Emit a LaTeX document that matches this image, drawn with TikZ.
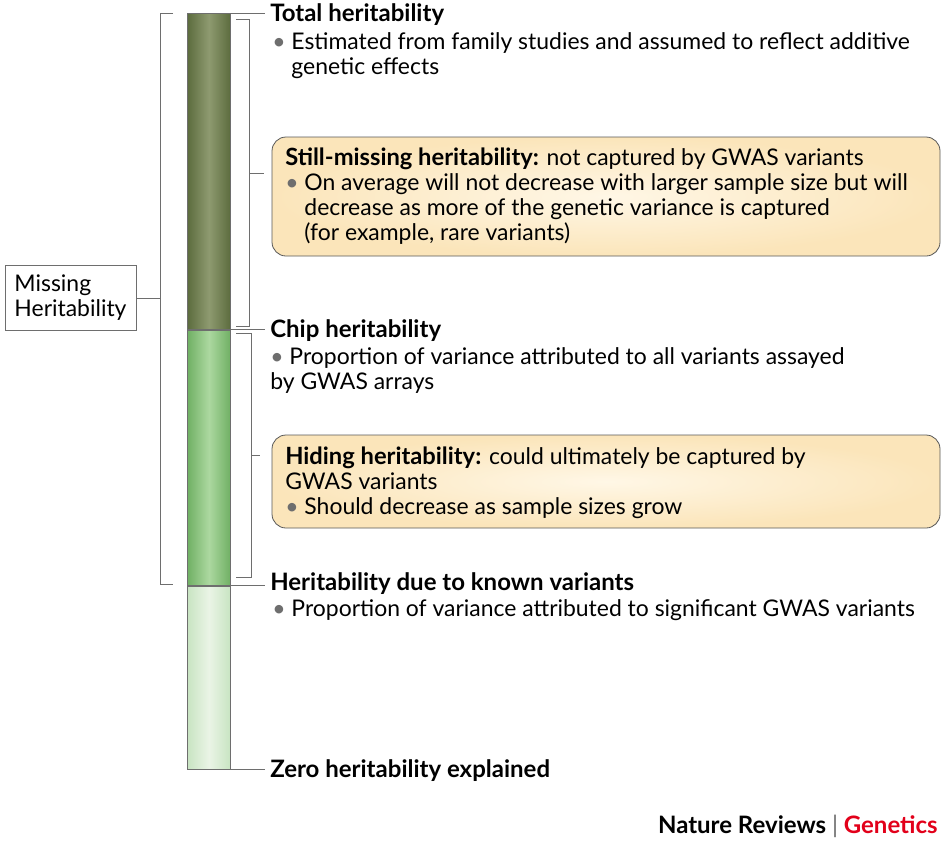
\documentclass[tikz,border=0pt]{standalone}
\usepackage{fontspec}
\setmainfont{Lato}
\usetikzlibrary{positioning}

\definecolor{oliveedge}{RGB}{92,108,62}
\definecolor{olivemid}{RGB}{142,154,112}
\definecolor{chipedge}{RGB}{112,176,100}
\definecolor{chipmid}{RGB}{172,216,160}
\definecolor{knownedge}{RGB}{200,228,194}
\definecolor{knownmid}{RGB}{234,244,230}
\definecolor{boxout}{RGB}{251,229,186}
\definecolor{boxin}{RGB}{255,247,230}
\definecolor{rulegray}{RGB}{110,110,110}
\definecolor{natred}{RGB}{226,0,26}

\newcommand{\bul}{{\color{rulegray}\textbullet}\ }
\newcommand{\hang}{\hphantom{\textbullet\ }}
\newcommand{\lead}[1]{{\fontsize{17.8}{18.75}\selectfont\bfseries #1}}

\begin{document}
\begin{tikzpicture}[x=0.75pt, y=-0.75pt,
                    font = \fontsize{17.2}{18.75}\selectfont,
                    guide/.style = {draw = rulegray, line width = 0.6pt},
                    barpart/.style = {guide,
                                      anchor = north west,
                                      inner sep = 0pt,
                                      minimum width = 43*0.75pt},
                    head/.style = {anchor = base west,
                                   inner xsep = 5*0.75pt,
                                   inner ysep = 0pt,
                                   font = \fontsize{18}{18.75}\selectfont\bfseries},
                    note/.style = {anchor = base west,
                                   inner sep = 0pt,
                                   align = left},
                    callout/.style = {draw = rulegray!80!black, line width = 0.6pt,
                                      rounded corners = 14*0.75pt,
                                      inner color = boxin,
                                      outer color = boxout,
                                      minimum width = 668*0.75pt}]

\useasboundingbox (0,0) rectangle (946,844);

% the bar
\node[barpart, minimum height = 316*0.75pt, left color = oliveedge,
      right color = oliveedge, middle color = olivemid] (total) at (187,13) {};
\node[barpart, minimum height = 255*0.75pt, left color = chipedge,
      right color = chipedge, middle color = chipmid] (chip) at (total.south west) {};
\node[barpart, minimum height = 183*0.75pt, left color = knownedge,
      right color = knownedge, middle color = knownmid] (known) at (chip.south west) {};

% missing heritability bracket
\node[guide, minimum width = 131*0.75pt, minimum height = 65*0.75pt,
      align = left] (miss) at (70.5,298) {Missing\\Heritability};
\coordinate (missbr) at (160,298);
\draw[guide] (173,13) -- (160,13) -- (160,584) -- (173,584);
\draw[guide] (miss.east) -- (missbr);

% callout boxes
\node[callout, minimum height = 119*0.75pt] (still) at (606,196.5) {};
\node[callout, minimum height = 93*0.75pt] (hiding) at (606,481.5) {};

% inner brackets
\coordinate (stillbr) at (264,173);
\coordinate (hidingbr) at (260,455);
\draw[guide] (236,19) -- (249,19) -- (249,326) -- (236,326);
\draw[guide] (249,173) -- (stillbr);
\draw[guide] (236,333) -- (251,333) -- (251,577) -- (236,577);
\draw[guide] (251,455) -- (hidingbr);

% labels (base = last line)
\node[head] (totalh) at (265,21) {Total heritability};
\node[note] (totaln) at (272,74) {\bul Estimated from family studies and assumed to reflect additive\\
                                  \hang genetic effects};

\node[note] (stilln) at (285,240) {\lead{Still-missing heritability:} not captured by GWAS variants\\
                                   \bul On average will not decrease with larger sample size but will\\
                                   \hang decrease as more of the genetic variance is captured\\
                                   \hang (for example, rare variants)};

\node[head] (chiph) at (265,337) {Chip heritability};
\node[note] (chipn) at (270,389) {\bul Proportion of variance attributed to all variants assayed\\
                                  by GWAS arrays};

\node[note] (hidingn) at (285,514) {\lead{Hiding heritability:} could ultimately be captured by\\
                                    GWAS variants\\
                                    \bul Should decrease as sample sizes grow};

\node[head] (knownh) at (265,590) {Heritability due to known variants};
\node[note] (knownn) at (272,616) {\bul Proportion of variance attributed to significant GWAS variants};

\node[head] (zeroh) at (265,777) {Zero heritability explained};

% leaders
\draw[guide] (total.north east) -- (total.north east -| totalh.west);
\draw[guide] (chip.north east) -- (chip.north east -| chiph.west);
\draw[guide] (known.north east) -- (known.north east -| knownh.west);
\draw[guide] (known.south east) -- (known.south east -| zeroh.west);

\node[anchor = base east, inner sep = 0pt,
      font = \fontsize{18}{18.75}\selectfont\bfseries] (credit) at (938,833)
     {Nature Reviews {\color{rulegray}\mdseries|} \textcolor{natred}{Genetics}};

\end{tikzpicture}
\end{document}
